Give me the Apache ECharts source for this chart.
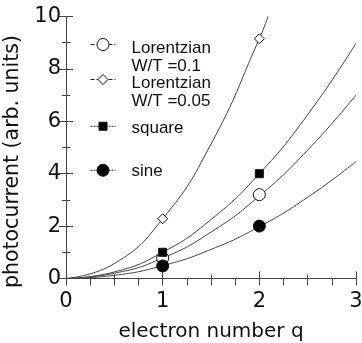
<!DOCTYPE html>
<html>
<head>
<meta charset="utf-8">
<script src="https://cdn.jsdelivr.net/npm/echarts@6/dist/echarts.min.js"></script>
<style>
  html, body { margin: 0; padding: 0; background: #fff; }
  #chart { width: 362px; height: 343px; }
</style>
</head>
<body>
<div id="chart"></div>
<script>
// Measured photocurrent at electron numbers q = 1, 2
const pointQ = [1, 2];
const lorentz01Pts = [0.78, 3.2];
const lorentz005Pts = [2.28, 9.15];
const squarePts = [1.0, 4.0];
const sinePts = [0.48, 2.0];

// Guide curves through the measured points
const curveQ = [0, 0.5, 1, 1.5, 2, 2.5, 3];
const lorentz01Curve = [0, 0.2, 0.78, 1.77, 3.15, 4.9, 7.0];
const squareCurve = [0, 0.25, 1.0, 2.25, 4.0, 6.25, 8.98];
const sineCurve = [0, 0.12, 0.49, 1.11, 1.98, 3.1, 4.46];
const steepQ = [0, 0.5, 1, 1.5, 2, 2.09];
const lorentz005Curve = [0, 0.57, 2.28, 5.13, 9.15, 10.0];

// Axis ticks
const xTicks = [0, 1, 2, 3];
const yTicks = [0, 2, 4, 6, 8, 10];

const names = {
  l01: 'Lorentzian\nW/T =0.1',
  l005: 'Lorentzian\nW/T =0.05',
  sq: 'square',
  sn: 'sine'
};

const pairs = (xs, ys) => xs.map((x, i) => [x, ys[i]]);

const ink = '#111';
const curveColor = '#444';
const axisFont = 'DejaVu Sans';
const legendFont = '"Liberation Sans", sans-serif';

function curve(xs, ys) {
  return {
    type: 'line', data: pairs(xs, ys), smooth: true, symbol: 'none',
    lineStyle: { color: curveColor, width: 1 }, silent: true, z: 2
  };
}

function markers(name, ys, symbol, size, fill) {
  return {
    name, type: 'line', data: pairs(pointQ, ys), symbol, symbolSize: size,
    lineStyle: { opacity: 0, width: 0 },
    itemStyle: { color: fill, borderColor: '#111', borderWidth: 1, opacity: 1 },
    z: 3
  };
}

// Legend entry: the icon sits on the first text line; a spacer line of
// height `lead` above the text shifts the block so that happens.
const lineH = 18.5;
function legendBox(name, top, itemHeight, lead, dash) {
  return {
    data: [{ name }], orient: 'vertical', left: 90, top, padding: 0,
    itemWidth: 25, itemHeight, selectedMode: false,
    lineStyle: { color: '#222', width: 1, type: dash, opacity: 1 },
    itemStyle: { borderWidth: 1, borderColor: '#111' },
    formatter: n => '{g| }\n' + n.split('\n').map(s => '{t|' + s + '}').join('\n'),
    textStyle: {
      color: ink,
      rich: {
        g: { fontSize: 1, lineHeight: lead, padding: [0, 0, 0, 11] },
        t: { fontFamily: legendFont, fontSize: 17, lineHeight: lineH, color: ink, padding: [0, 0, 0, 11] }
      }
    }
  };
}

const chart = echarts.init(document.getElementById('chart'), null, { renderer: 'canvas' });
chart.setOption({
  animation: false,
  backgroundColor: '#fff',
  grid: { left: 66, right: 6, top: 16.5, bottom: 64.5, containLabel: false, outerBoundsMode: 'none' },
  legend: [
    legendBox(names.l01, 25.5, 15, lineH + 7, [4, 2]),
    legendBox(names.l005, 60.5, 12.5, lineH + 7, [4, 2]),
    legendBox(names.sq, 116.5, 10, 5, [2, 1]),
    legendBox(names.sn, 160.5, 15, 2, [2, 1])
  ],
  xAxis: [
    {
      type: 'value', min: xTicks[0], max: xTicks[xTicks.length - 1], interval: 1,
      axisLine: { lineStyle: { color: '#444', width: 1 } },
      axisTick: { inside: true, length: 7, lineStyle: { color: '#444' } },
      minorTick: { show: true, splitNumber: 2, length: 4, lineStyle: { color: '#444' } },
      splitLine: { show: false },
      axisLabel: { fontFamily: axisFont, fontSize: 21, color: ink, margin: 13 },
      name: 'electron number q', nameLocation: 'middle', nameGap: 43,
      nameTextStyle: { fontFamily: axisFont, fontSize: 20, color: ink }
    },
    {
      type: 'value', position: 'top', min: 0, max: 3, interval: 0.25,
      axisLine: { lineStyle: { color: '#444', width: 1 } },
      axisTick: { inside: true, length: 7, lineStyle: { color: '#444' } },
      axisLabel: { show: false }, splitLine: { show: false }
    }
  ],
  yAxis: [
    {
      type: 'value', min: yTicks[0], max: yTicks[yTicks.length - 1], interval: 2,
      axisLine: { show: true, lineStyle: { color: '#444', width: 1 } },
      axisTick: { show: true, inside: true, length: 7, lineStyle: { color: '#444' } },
      minorTick: { show: true, splitNumber: 2, length: 4, lineStyle: { color: '#444' } },
      splitLine: { show: false },
      axisLabel: { fontFamily: axisFont, fontSize: 21, color: ink, margin: 5 },
      name: 'photocurrent (arb. units)', nameLocation: 'middle', nameGap: 34,
      nameTextStyle: { fontFamily: axisFont, fontSize: 20.5, color: ink, padding: [0, 28, 0, 0] }
    },
    {
      type: 'value', position: 'right', min: 0, max: 10, interval: 2,
      axisLine: { show: true, lineStyle: { color: '#444', width: 1 } },
      axisTick: { show: true, inside: true, length: 7, lineStyle: { color: '#444' } },
      minorTick: { show: true, splitNumber: 2, length: 4, lineStyle: { color: '#444' } },
      axisLabel: { show: false }, splitLine: { show: false }
    }
  ],
  series: [
    curve(steepQ, lorentz005Curve),
    curve(curveQ, squareCurve),
    curve(curveQ, lorentz01Curve),
    curve(curveQ, sineCurve),
    markers(names.l01, lorentz01Pts, 'circle', 12, '#fff'),
    markers(names.l005, lorentz005Pts, 'diamond', 10, '#fff'),
    markers(names.sq, squarePts, 'rect', 8, '#000'),
    markers(names.sn, sinePts, 'circle', 12, '#000')
  ]
});
</script>
</body>
</html>
